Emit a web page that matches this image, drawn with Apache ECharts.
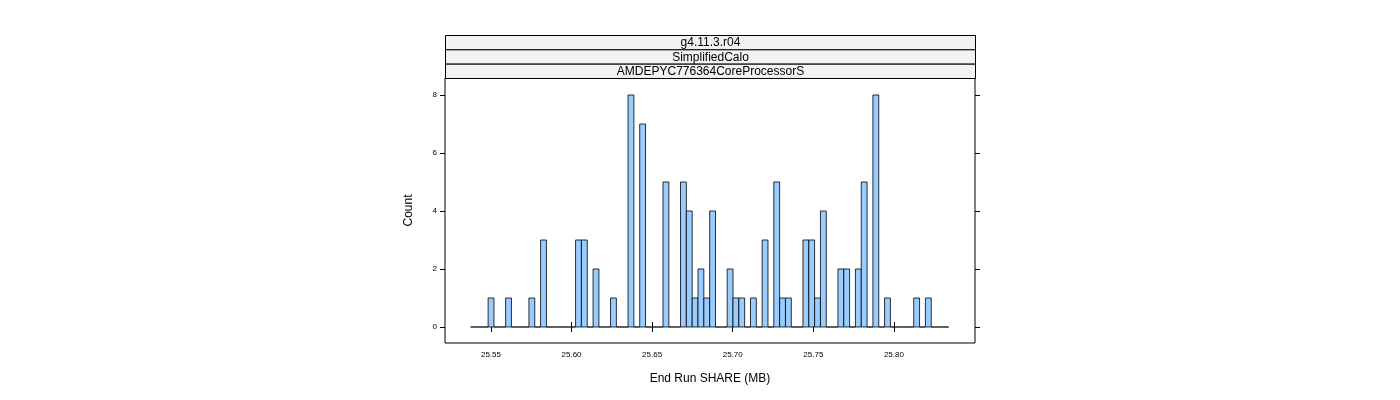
<!DOCTYPE html>
<html>
<head>
<meta charset="UTF-8">
<script src="https://cdn.jsdelivr.net/npm/echarts@6/dist/echarts.min.js"></script>
</head>
<body style="margin:0;background:#fff">
<div id="main" style="width:1400px;height:400px"></div>
<script>
// histogram bins: first bin starts at binStart, all bins binWidth wide
var binStart = 25.5374;
var binWidth = 0.003617;
var counts = [
  0, 0, 0, 1, 0, 0, 1, 0, 0, 0, 1, 0, 3, 0, 0, 0, 0, 0, 3, 3,
  0, 2, 0, 0, 1, 0, 0, 8, 0, 7, 0, 0, 0, 5, 0, 0, 5, 4, 1, 2,
  1, 4, 0, 0, 2, 1, 1, 0, 1, 0, 3, 0, 5, 1, 1, 0, 0, 3, 3, 1,
  4, 0, 0, 2, 2, 0, 2, 5, 0, 8, 0, 1, 0, 0, 0, 0, 1, 0, 1, 0,
  0, 0
];
var xTicks = [25.55, 25.60, 25.65, 25.70, 25.75, 25.80];
var stripLabels = ['g4.11.3.r04', 'SimplifiedCalo', 'AMDEPYC776364CoreProcessorS'];

var bins = counts.map(function (c, i) {
  return [binStart + i * binWidth, binStart + (i + 1) * binWidth, c];
});

var chart = echarts.init(document.getElementById('main'));
var tickFont = { fontFamily: 'Liberation Sans', fontSize: 8, color: '#000' };
var xMin = 25.5215, xMax = 25.8503;

function xAxisCfg(pos, labels) {
  return {
    type: 'value', position: pos, min: xMin, max: xMax,
    offset: pos === 'top' ? 43 : 0,
    axisLine: { show: pos === 'bottom', lineStyle: { color: '#000' } },
    axisTick: { show: false },
    axisLabel: { show: false },
    splitLine: { show: false }
  };
}

var option = {
  animation: false,
  grid: { left: 445, top: 78, width: 530, height: 265, show: true, borderColor: '#000', borderWidth: 1 },
  xAxis: [
    {
      type: 'value', position: 'bottom', min: xMin, max: xMax,
      axisLine: { show: false },
      axisTick: { show: true, inside: false, length: 5, customValues: xTicks, lineStyle: { color: '#000' } },
      axisLabel: Object.assign({ showMinLabel: true, margin: 8, customValues: xTicks,
        formatter: function (v) { return v.toFixed(2); } }, tickFont),
      splitLine: { show: false },
      name: 'End Run SHARE (MB)', nameLocation: 'middle', nameGap: 30,
      nameTextStyle: { fontFamily: 'Liberation Sans', fontSize: 12, color: '#000' }
    },
    {
      type: 'value', position: 'top', offset: 43, min: xMin, max: xMax,
      axisLine: { show: false },
      axisTick: { show: true, length: 5, customValues: xTicks, lineStyle: { color: '#000' } },
      axisLabel: { show: false },
      splitLine: { show: false }
    }
  ],
  yAxis: [
    {
      type: 'value', position: 'left', min: -0.552, max: 8.586,
      axisLine: { show: false },
      axisTick: { show: true, length: 5, customValues: [0, 2, 4, 6, 8], lineStyle: { color: '#000' } },
      axisLabel: Object.assign({ margin: 8, customValues: [0, 2, 4, 6, 8] }, tickFont),
      splitLine: { show: false },
      name: 'Count', nameLocation: 'middle', nameGap: 30,
      nameTextStyle: { fontFamily: 'Liberation Sans', fontSize: 12, color: '#000' }
    },
    {
      type: 'value', position: 'right', min: -0.552, max: 8.586,
      axisLine: { show: false },
      axisTick: { show: true, length: 5, customValues: [0, 2, 4, 6, 8], lineStyle: { color: '#000' } },
      axisLabel: { show: false },
      splitLine: { show: false }
    }
  ],
  graphic: stripLabels.map(function (t, i) {
    return {
      type: 'group', left: 445, top: 35 + i * 14.33,
      children: [
        { type: 'rect', shape: { x: 0, y: 0, width: 530, height: 14.33 },
          style: { fill: '#f2f2f2', stroke: '#000', lineWidth: 1 } },
        { type: 'text', x: 265, y: 7.5,
          style: { text: t, fill: '#000', font: '12px "Liberation Sans"', textAlign: 'center', textVerticalAlign: 'middle' } }
      ]
    };
  }),
  series: [{
    type: 'custom',
    xAxisIndex: 0, yAxisIndex: 0,
    data: bins,
    renderItem: function (params, api) {
      var p0 = api.coord([api.value(0), 0]);
      var p1 = api.coord([api.value(1), api.value(2)]);
      return {
        type: 'rect',
        shape: { x: p0[0], y: p1[1], width: p1[0] - p0[0], height: p0[1] - p1[1] },
        style: { fill: '#99ccff', stroke: '#000', lineWidth: 0.8 }
      };
    }
  }]
};
chart.setOption(option);
</script>
</body>
</html>
